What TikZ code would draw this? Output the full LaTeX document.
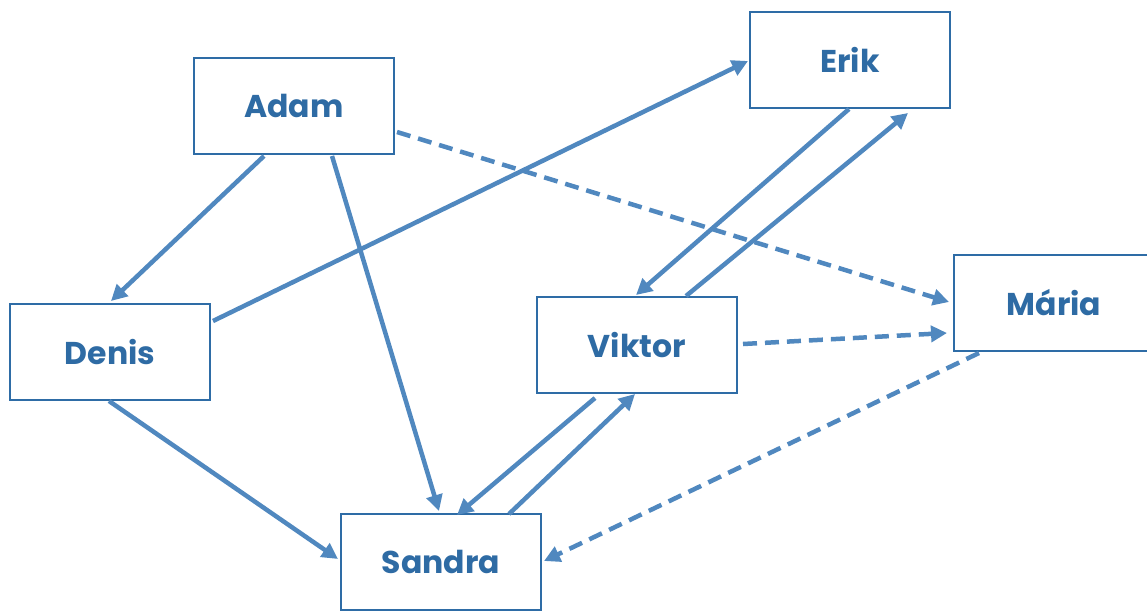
\documentclass[tikz,border=0pt]{standalone}
\usepackage{fontspec}
\setmainfont{Poppins}
\usetikzlibrary{arrows.meta,calc}
\definecolor{boxblue}{HTML}{2E6CA6}
\definecolor{txtblue}{HTML}{2E6BA4}
\definecolor{arrblue}{HTML}{5088BF}
\tikzset{
  person/.style={draw=boxblue, line width=2pt, fill=white, minimum width=200pt, minimum height=96pt,
    inner sep=0pt, text=txtblue, font=\fontsize{31.5}{36}\selectfont\bfseries},
  link/.style={draw=arrblue, line width=4.5pt, -{Triangle[length=16pt,width=16pt]}},
  dlink/.style={link, dash pattern=on 14pt off 8pt},
}
\begin{document}
\begin{tikzpicture}[x=1pt,y=-1pt]
\useasboundingbox (0,0) rectangle (1147,610);
\node[person] (adam) at (294,106) {Adam};
\node[person] (erik) at (850,60) {Erik};
\node[person] (denis) at (110,352) {Denis};
\node[person] (viktor) at (637,345) {Viktor};
\node[person] (maria) at (1054,303) {Mária};
\node[person, text depth=-3pt] (sandra) at (441,562) {Sandra};

\draw[link] ($(adam.south west)+(71,1)$) -- ($(denis.north west)+(102,-2)$);
\draw[link] ($(adam.south west)+(139,1)$) -- ($(sandra.north west)+(99,-2)$);
\draw[dlink] ($(adam.north east)+(2,75)$) -- ($(maria.north west)+(-4,48)$);
\draw[link] ($(denis.north east)+(2,18)$) -- ($(erik.north west)+(-1,50)$);
\draw[link] ($(denis.south west)+(100,0)$) -- ($(sandra.north west)+(-2,46)$);
\draw[link] ($(erik.south west)+(100,0)$) -- ($(viktor.north west)+(100,-1)$);
\draw[link] ($(viktor.north west)+(150,0)$) -- ($(erik.south west)+(159,4)$);
\draw[dlink] ($(viktor.north east)+(5,48)$) -- ($(maria.north west)+(-6,79)$);
\draw[dlink] ($(maria.south west)+(26,1)$) -- ($(sandra.north east)+(2,48)$);
\draw[link] ($(viktor.south west)+(59,4)$) -- ($(sandra.north west)+(117,2)$);
\draw[link] ($(sandra.north west)+(169,1)$) -- ($(viktor.south west)+(99,0)$);
\end{tikzpicture}
\end{document}
